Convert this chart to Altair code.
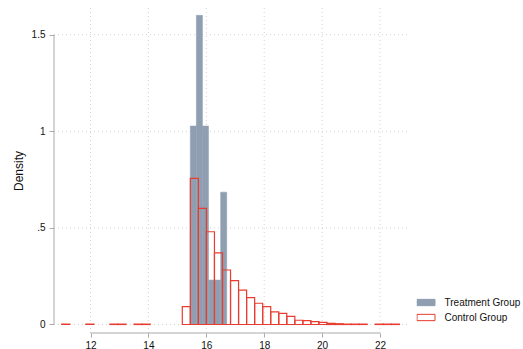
import altair as alt
import pandas as pd

# Histogram bins (density scale) for the two groups
groups = ["Treatment Group", "Control Group"]

treat_start = 15.447
treat_width = 0.2097
treat_density = [1.027, 1.600, 1.027, 0.230, 0.230, 0.685]

ctrl_start = 11.005
ctrl_width = 0.2777
ctrl_density = [
    0.002, 0.0, 0.0, 0.002, 0.0, 0.0, 0.002, 0.002, 0.0, 0.002,
    0.002, 0.0, 0.0, 0.0, 0.0, 0.092, 0.756, 0.601, 0.480, 0.371,
    0.282, 0.227, 0.178, 0.139, 0.110, 0.092, 0.065, 0.058, 0.042, 0.022,
    0.020, 0.015, 0.011, 0.006, 0.004, 0.002, 0.002, 0.002, 0.0, 0.002,
    0.002, 0.002,
]

x_ticks = [12, 14, 16, 18, 20, 22]
y_ticks = [0, 0.5, 1, 1.5]

GRAY = "#8F9EB0"
RED = "#E83C30"
AXIS = "#AAAAAA"
GRID = "#D2D2D2"
FONT = "Liberation Sans"

PLOT_W, PLOT_H = 354, 325

rows = []
for i, d in enumerate(treat_density):
    rows.append({"group": groups[0], "lo": treat_start + i * treat_width,
                 "hi": treat_start + (i + 1) * treat_width, "density": d})
for i, d in enumerate(ctrl_density):
    if d > 0:  # empty bins are not drawn
        rows.append({"group": groups[1], "lo": ctrl_start + i * ctrl_width,
                     "hi": ctrl_start + (i + 1) * ctrl_width, "density": d})
bars = pd.DataFrame(rows)

x_scale = alt.Scale(domain=[10.739, 22.967], nice=False, zero=False)
y_scale = alt.Scale(domain=[-0.044, 1.638], nice=False, zero=False)

x_axis = alt.Axis(values=x_ticks, title=None, domain=False, grid=False,
                  tickSize=4, tickColor=AXIS,
                  labelFontSize=10, labelPadding=3, labelColor="#111111",
                  format="d", labelFont=FONT)
y_axis = alt.Axis(values=y_ticks, title="Density", domain=False, grid=False,
                  tickSize=5, tickColor=AXIS,
                  labelFontSize=10, labelPadding=4, labelColor="#111111",
                  labelExpr="datum.value == 0.5 ? '.5' : datum.value == 1.5 ? '1.5' : format(datum.value, 'd')",
                  titleFontSize=12, titleFontWeight="normal", titleColor="#111111",
                  titlePadding=6, titleFont=FONT, labelFont=FONT)

legend = alt.Legend(title=None, orient="none", legendX=362.5, legendY=288,
                    symbolType="M-1,-0.35H1V0.35H-1Z", symbolSize=324,
                    symbolStrokeWidth=1, clipHeight=13, rowPadding=2,
                    labelOffset=9, labelFontSize=10, labelColor="#111111",
                    labelFont=FONT, labelLimit=200, padding=0)

# Dotted grid at the labelled ticks only
x_grid = alt.Chart(pd.DataFrame({"lo": x_ticks})).mark_rule(
    color=GRID, strokeWidth=1, strokeDash=[1, 3]).encode(
    x=alt.X("lo:Q", scale=x_scale, axis=x_axis), y=alt.value(0), y2=alt.value(PLOT_H))
y_grid = alt.Chart(pd.DataFrame({"density": y_ticks})).mark_rule(
    color=GRID, strokeWidth=1, strokeDash=[1, 3]).encode(
    y=alt.Y("density:Q", scale=y_scale, axis=y_axis), x=alt.value(0), x2=alt.value(PLOT_W))

base = alt.Chart(bars).encode(
    x=alt.X("lo:Q", scale=x_scale, axis=x_axis),
    x2="hi:Q",
    y=alt.Y("density:Q", scale=y_scale, axis=y_axis),
    y2=alt.datum(0),
    fill=alt.Fill("group:N", scale=alt.Scale(domain=groups, range=[GRAY, "transparent"]),
                  legend=legend),
    stroke=alt.Stroke("group:N", scale=alt.Scale(domain=groups, range=[GRAY, RED]),
                      legend=legend),
)

treat_layer = base.transform_filter(alt.datum.group == groups[0]).mark_rect(strokeWidth=0.5)
ctrl_layer = base.transform_filter(alt.datum.group == groups[1]).mark_rect(strokeWidth=1.2)

# Axis lines span only the labelled range, as in Stata graphs
x_line = alt.Chart(pd.DataFrame({"lo": [x_ticks[0]], "hi": [x_ticks[-1]]})).mark_rule(
    color=AXIS, strokeWidth=1).encode(
    x=alt.X("lo:Q", scale=x_scale, axis=x_axis), x2="hi:Q", y=alt.value(PLOT_H))
y_line = alt.Chart(pd.DataFrame({"density": [y_ticks[0]], "top": [y_ticks[-1]]})).mark_rule(
    color=AXIS, strokeWidth=1).encode(
    y=alt.Y("density:Q", scale=y_scale, axis=y_axis), y2="top:Q", x=alt.value(0))

chart = alt.layer(x_grid, y_grid, treat_layer, ctrl_layer, x_line, y_line).properties(
    width=PLOT_W, height=PLOT_H,
    autosize=alt.AutoSizeParams(type="none"),
    padding={"left": 54, "top": 8, "right": 115, "bottom": 16},
    background="white",
).configure(font=FONT).configure_view(stroke=None)

chart.save("out.html", embed_options={"renderer": "svg", "actions": False})
